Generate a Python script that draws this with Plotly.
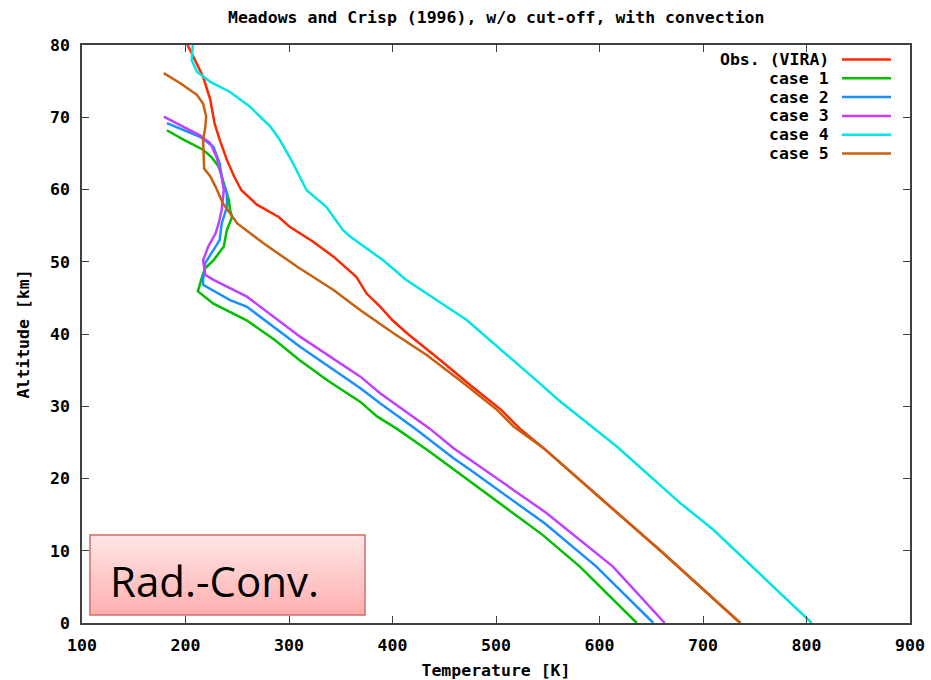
import plotly.graph_objects as go

# ---------------- data ----------------
vira_T = [202, 207, 217, 224, 228, 233, 240, 247, 254, 269, 290, 301, 323, 343, 365, 375, 388, 400, 414, 446, 477, 505, 523, 546, 599, 659, 736]
vira_z = [80, 78.6, 75.6, 72.4, 69.2, 66.9, 64.1, 61.8, 59.9, 57.9, 56.2, 54.8, 52.8, 50.7, 47.9, 45.6, 43.8, 41.9, 40.1, 36.4, 32.7, 29.5, 26.9, 24.2, 17.5, 10.0, 0]

case1_T = [182, 198, 217, 225, 232, 237, 242, 243, 245, 240, 237, 227, 219, 216, 212, 227, 259, 286, 310, 337, 369, 385, 404, 434, 545, 581, 636]
case1_z = [68.2, 66.9, 65.5, 64.5, 63.2, 60.9, 58.5, 57.2, 56.2, 54.4, 52.1, 50.2, 49.1, 47.9, 45.9, 44.2, 41.9, 39.2, 36.4, 33.6, 30.6, 28.6, 26.9, 23.9, 12.2, 7.8, 0]

case2_T = [182, 214, 227, 233, 236, 240, 240, 235, 233, 225, 219, 217, 217, 243, 259, 311, 369, 388, 422, 459, 475, 547, 597, 652]
case2_z = [69.2, 67.3, 65.9, 63.6, 60.9, 59.5, 57.6, 55.3, 53.0, 51.2, 49.8, 47.5, 46.8, 44.7, 43.8, 38.2, 32.5, 30.4, 26.9, 22.8, 21.2, 13.8, 7.8, 0]

case3_T = [179, 214, 224, 230, 235, 237, 235, 232, 229, 222, 217, 219, 227, 259, 311, 369, 388, 436, 459, 475, 549, 613, 663]
case3_z = [70.1, 67.5, 66.4, 64.5, 61.8, 59.9, 57.2, 55.3, 53.9, 52.1, 50.2, 48.2, 47.5, 45.2, 39.6, 34.1, 31.8, 26.9, 24.2, 22.6, 15.2, 7.8, 0]

case4_T = [207, 206, 211, 224, 243, 262, 282, 291, 304, 317, 336, 352, 359, 391, 413, 472, 542, 560, 617, 678, 710, 805]
case4_z = [80, 77.9, 76.3, 74.9, 73.5, 71.5, 68.7, 66.9, 63.6, 59.9, 57.6, 54.4, 53.5, 50.2, 47.5, 41.9, 33.2, 30.9, 24.4, 16.6, 12.9, 0]

case5_T = [179, 195, 211, 217, 220, 219, 217, 218, 224, 229, 236, 245, 250, 275, 308, 343, 369, 401, 433, 465, 501, 517, 546, 599, 659, 736]
case5_z = [76.1, 74.7, 73.1, 71.9, 70.1, 68.5, 66.9, 62.9, 61.8, 60.4, 58.1, 56.2, 55.3, 52.6, 49.3, 46.1, 43.3, 40.1, 37.1, 33.6, 29.5, 27.2, 24.2, 17.5, 10.0, 0]

series_names = ["Obs. (VIRA)", "case 1", "case 2", "case 3", "case 4", "case 5"]
series_T = [vira_T, case1_T, case2_T, case3_T, case4_T, case5_T]
series_z = [vira_z, case1_z, case2_z, case3_z, case4_z, case5_z]
series_colors = ["#ff2800", "#00c000", "#1a90ff", "#c040ff", "#00e5e5", "#c8600f"]

x_ticks = [100, 200, 300, 400, 500, 600, 700, 800, 900]
y_ticks = [0, 10, 20, 30, 40, 50, 60, 70, 80]

title_text = "Meadows and Crisp (1996), w/o cut-off, with convection"
x_title = "Temperature [K]"
y_title = "Altitude [km]"
box_text = "Rad.-Conv."

MONO = "DejaVu Sans Mono"
FS = 16.5
mono_font = dict(family=MONO, size=FS, color="black", weight="bold")

fig = go.Figure()
for name, T, z, c in zip(series_names, series_T, series_z, series_colors):
    fig.add_trace(go.Scatter(x=T, y=z, mode="lines", name=name,
                             line=dict(color=c, width=2.5), showlegend=False))

axis_common = dict(
    showline=True, linecolor="#404040", linewidth=1.5, mirror="ticks",
    ticks="inside", ticklen=7, tickwidth=1.2, tickcolor="#404040",
    showgrid=False, zeroline=False, automargin=False,
    tickfont=mono_font,
)

fig.update_layout(
    width=931, height=680,
    margin=dict(l=82, r=21, t=45, b=57),
    paper_bgcolor="white", plot_bgcolor="white",
    title=dict(text=title_text, x=0.533, xanchor="center", y=1 - 17 / 680, yanchor="middle",
               font=mono_font),
    xaxis=dict(range=[100, 900], tickvals=x_ticks, ticklabelstandoff=6, **axis_common,
               title=dict(text=x_title, standoff=12, font=mono_font)),
    yaxis=dict(range=[0, 80], tickvals=y_ticks, ticklabelstandoff=7, **axis_common,
               title=dict(text=y_title, standoff=16, font=mono_font)),
    showlegend=False,
)

# ---- manual gnuplot-style legend (text right-aligned, sample line to the right) ----
W, H = 828.0, 578.0
shapes = []
annotations = []
for i, (name, c) in enumerate(zip(series_names, series_colors)):
    py = 59.5 + i * 18.8
    yp = (623 - py) / H
    annotations.append(dict(xref="paper", yref="paper", x=(831 - 82) / W, y=yp,
                            xanchor="right", yanchor="middle", showarrow=False, text=name,
                            font=mono_font))
    shapes.append(dict(type="line", xref="paper", yref="paper",
                       x0=(842 - 82) / W, x1=(891 - 82) / W, y0=yp, y1=yp,
                       line=dict(color=c, width=2.5)))

# ---- "Rad.-Conv." box with vertical pink gradient ----
bx0, bx1 = (90 - 82) / W, (365 - 82) / W
by_top, by_bot = (623 - 535) / H, (623 - 615) / H
n = 40
top_rgb = (255, 230, 230)
bot_rgb = (255, 176, 176)
for k in range(n):
    f = k / (n - 1)
    r = round(top_rgb[0] + (bot_rgb[0] - top_rgb[0]) * f)
    g = round(top_rgb[1] + (bot_rgb[1] - top_rgb[1]) * f)
    b = round(top_rgb[2] + (bot_rgb[2] - top_rgb[2]) * f)
    y0 = by_top - (by_top - by_bot) * k / n
    y1 = by_top - (by_top - by_bot) * (k + 1) / n
    shapes.append(dict(type="rect", xref="paper", yref="paper", x0=bx0, x1=bx1,
                       y0=y1, y1=y0 + 0.0005, fillcolor=f"rgb({r},{g},{b})",
                       line=dict(width=0), layer="above"))
shapes.append(dict(type="rect", xref="paper", yref="paper", x0=bx0, x1=bx1,
                   y0=by_bot, y1=by_top, fillcolor="rgba(0,0,0,0)",
                   line=dict(color="#d46a66", width=1.5), layer="above"))
annotations.append(dict(xref="paper", yref="paper", x=(108 - 82) / W, y=(623 - 580) / H,
                        xanchor="left", yanchor="middle", showarrow=False, text=box_text,
                        font=dict(family="Open Sans", size=42, color="black")))

fig.update_layout(shapes=shapes, annotations=annotations)
fig.write_html("out.html", config={"displayModeBar": False},
               post_script="document.body.style.margin='0px';")
